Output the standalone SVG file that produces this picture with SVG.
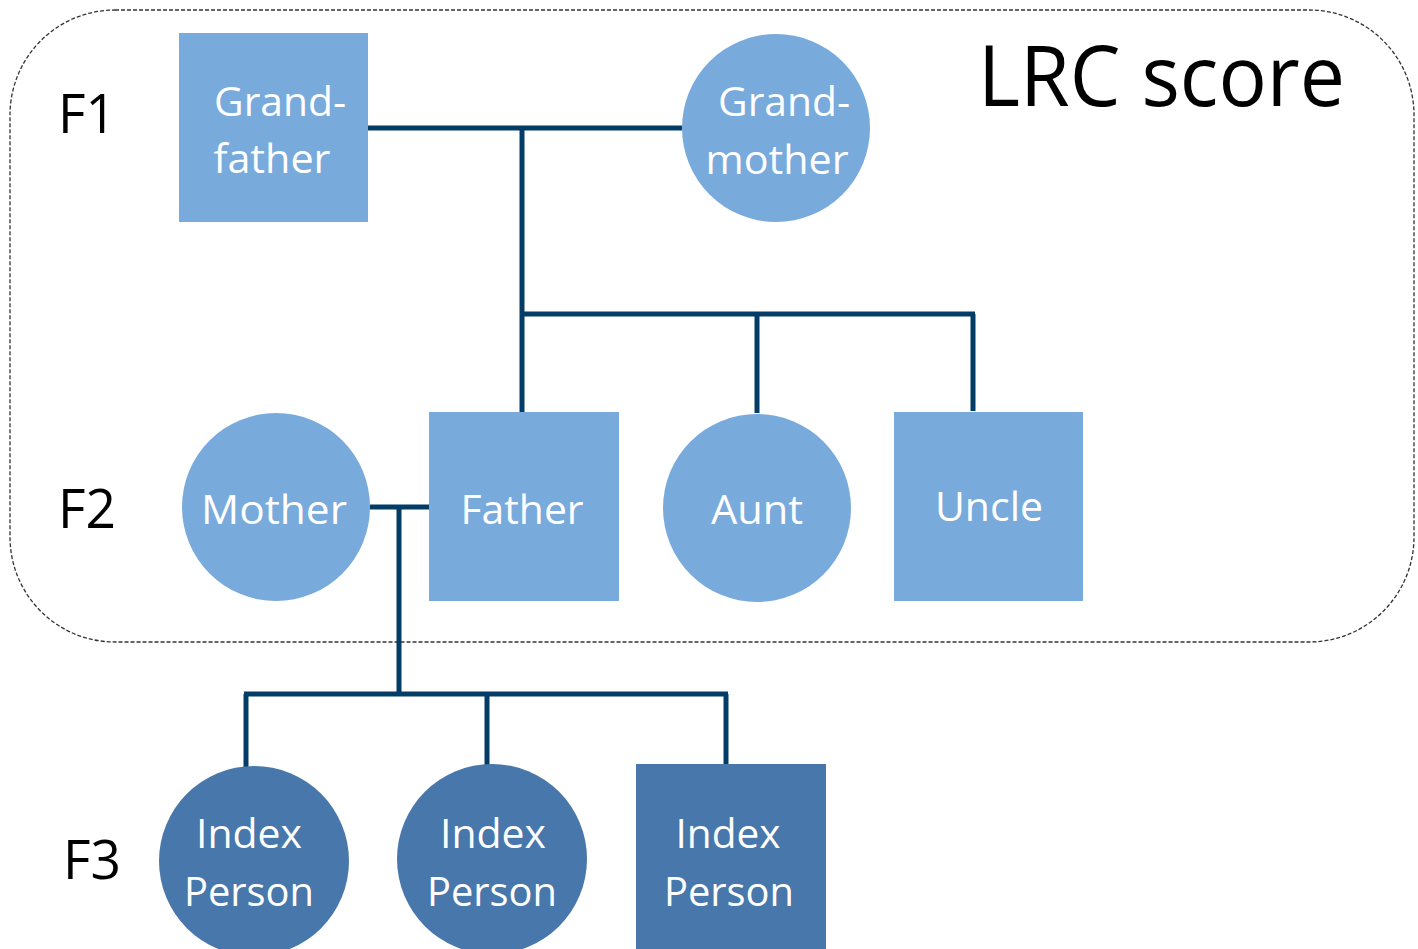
<svg xmlns="http://www.w3.org/2000/svg" width="1418" height="949" viewBox="0 0 1418 949">
<style>
.light{fill:#78aadc}
.dark{fill:#4777ab}
.lbl{font-family:"Open Sans","Noto Sans",sans-serif;font-size:40px;fill:#ffffff;text-anchor:middle}
.gen{font-family:"Open Sans","Noto Sans",sans-serif;font-size:55px;fill:#000000}
.title{font-family:"Open Sans","Noto Sans",sans-serif;font-size:84px;fill:#000000}
.conn{stroke:#033c66;stroke-width:5;fill:none;stroke-linecap:butt}
</style>
<rect x="0" y="0" width="1418" height="949" fill="#ffffff"/>
<rect id="frame" x="10" y="10" width="1404" height="632" rx="105" ry="105" fill="none" stroke="#333333" stroke-width="1.3" stroke-dasharray="4,2"/>
<text class="title" x="978" y="106" textLength="367" lengthAdjust="spacingAndGlyphs">LRC score</text>
<text class="gen" x="58" y="133" textLength="58" lengthAdjust="spacingAndGlyphs">F1</text>
<text class="gen" x="58" y="528" textLength="58" lengthAdjust="spacingAndGlyphs">F2</text>
<text class="gen" x="63" y="879" textLength="58" lengthAdjust="spacingAndGlyphs">F3</text>
<g id="connectors">
<path class="conn" d="M368,128 H682"/>
<path class="conn" d="M522,128 V413"/>
<path class="conn" d="M520,314 H975"/>
<path class="conn" d="M757,314 V413"/>
<path class="conn" d="M973,314 V411"/>
<path class="conn" d="M370,507 H429"/>
<path class="conn" d="M399,507 V694"/>
<path class="conn" d="M244,694 H728"/>
<path class="conn" d="M246,694 V768"/>
<path class="conn" d="M487,694 V766"/>
<path class="conn" d="M726,694 V765"/>
</g>
<g id="grandfather">
<rect class="light" x="179" y="33" width="189" height="189"/>
<text class="lbl" x="280" y="116" textLength="132" lengthAdjust="spacingAndGlyphs">Grand-</text>
<text class="lbl" x="272" y="173" textLength="117" lengthAdjust="spacingAndGlyphs">father</text>
</g>
<g id="grandmother">
<circle class="light" cx="776" cy="128" r="94"/>
<text class="lbl" x="784" y="116" textLength="132" lengthAdjust="spacingAndGlyphs">Grand-</text>
<text class="lbl" x="777" y="174" textLength="143" lengthAdjust="spacingAndGlyphs">mother</text>
</g>
<g id="mother">
<circle class="light" cx="276" cy="507" r="94"/>
<text class="lbl" x="274" y="524" textLength="146" lengthAdjust="spacingAndGlyphs">Mother</text>
</g>
<g id="father">
<rect class="light" x="429" y="412" width="190" height="189"/>
<text class="lbl" x="522" y="524" textLength="123" lengthAdjust="spacingAndGlyphs">Father</text>
</g>
<g id="aunt">
<circle class="light" cx="757" cy="508" r="94"/>
<text class="lbl" x="757" y="524" textLength="92" lengthAdjust="spacingAndGlyphs">Aunt</text>
</g>
<g id="uncle">
<rect class="light" x="894" y="412" width="189" height="189"/>
<text class="lbl" x="989" y="521" textLength="108" lengthAdjust="spacingAndGlyphs">Uncle</text>
</g>
<g id="index1">
<circle class="dark" cx="254" cy="861" r="95"/>
<text class="lbl" x="249" y="848" textLength="106" lengthAdjust="spacingAndGlyphs">Index</text>
<text class="lbl" x="249" y="906" textLength="130" lengthAdjust="spacingAndGlyphs">Person</text>
</g>
<g id="index2">
<circle class="dark" cx="492" cy="859" r="95"/>
<text class="lbl" x="493" y="848" textLength="106" lengthAdjust="spacingAndGlyphs">Index</text>
<text class="lbl" x="492" y="906" textLength="130" lengthAdjust="spacingAndGlyphs">Person</text>
</g>
<g id="index3">
<rect class="dark" x="636" y="764" width="190" height="190"/>
<text class="lbl" x="728" y="848" textLength="105" lengthAdjust="spacingAndGlyphs">Index</text>
<text class="lbl" x="729" y="906" textLength="130" lengthAdjust="spacingAndGlyphs">Person</text>
</g>
</svg>
